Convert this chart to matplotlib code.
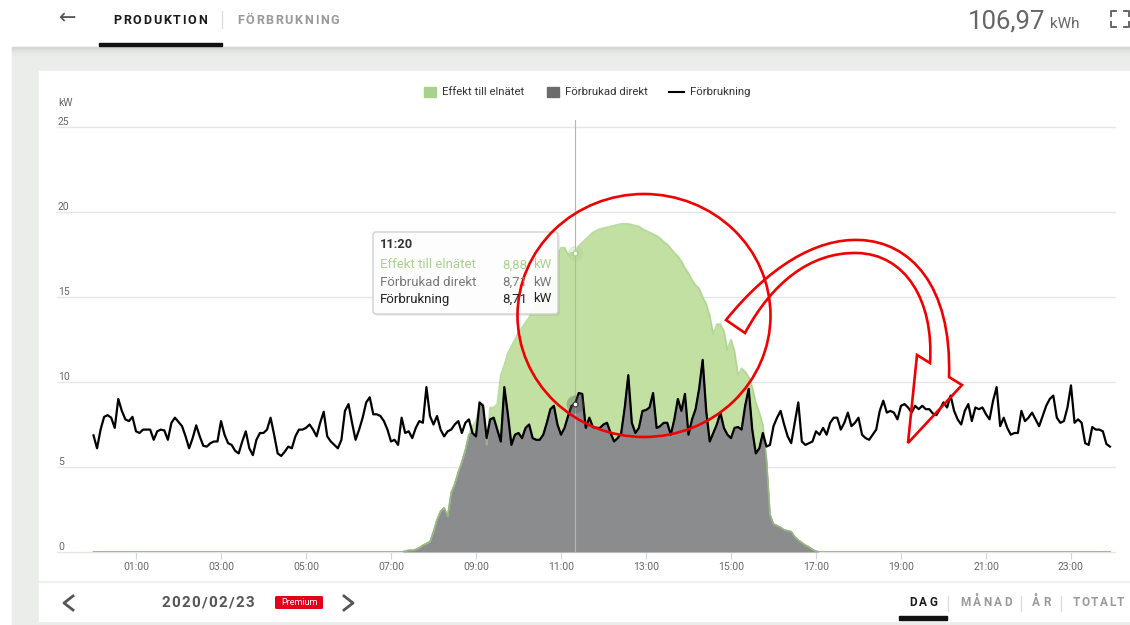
import numpy as np
import matplotlib
matplotlib.use("Agg")
import matplotlib.pyplot as plt
from matplotlib.patches import Rectangle, Ellipse, PathPatch, FancyBboxPatch
from matplotlib.path import Path
from matplotlib.font_manager import FontProperties
from matplotlib.textpath import TextToPath
import matplotlib.transforms as mtransforms

plt.rcParams['font.family'] = ['Roboto', 'DejaVu Sans']

# --- data: 5 minute values for 2020/02/23 (kW) ---
# Förbrukning, 00:00 .. 23:55
forbrukning = [
    6.86, 6.1, 7.2, 7.95, 8.05, 7.9, 7.3, 9.0, 8.3, 7.8,
    7.7, 7.95, 7.1, 7.0, 7.2, 7.2, 7.2, 6.6, 7.1, 7.2,
    7.15, 6.6, 7.6, 7.9, 7.65, 7.4, 6.8, 6.1, 6.7, 7.45,
    6.8, 6.25, 6.2, 6.4, 6.5, 6.5, 7.7, 6.9, 6.4, 6.3,
    5.95, 5.8, 6.5, 7.1, 6.1, 5.7, 6.6, 7.0, 7.0, 7.2,
    7.9, 6.9, 5.8, 5.65, 5.9, 6.2, 6.1, 6.8, 7.2, 7.2,
    7.3, 7.5, 7.2, 6.8, 7.6, 8.25, 6.8, 6.5, 6.3, 6.1,
    6.6, 8.3, 8.7, 7.6, 6.6, 7.2, 7.9, 8.8, 9.1, 8.1,
    8.1, 8.0, 7.7, 7.2, 6.5, 6.6, 6.3, 7.9, 7.0, 7.1,
    6.7, 7.3, 7.7, 7.6, 9.7, 8.0, 7.5, 8.0, 7.2, 6.8,
    7.1, 7.2, 7.5, 7.7, 7.0, 7.6, 7.8, 7.0, 6.8, 8.8,
    8.6, 6.7, 7.8, 7.9, 7.2, 6.5, 9.7, 8.1, 6.3, 6.9,
    7.0, 6.7, 7.3, 7.5, 6.7, 6.6, 6.6, 6.9, 7.6, 8.4,
    8.6, 7.5, 6.9, 7.3, 8.0, 8.6, 8.71, 9.35, 9.3, 7.3,
    7.9, 7.35, 7.3, 7.3, 7.5, 7.6, 7.0, 6.5, 6.7, 7.0,
    8.5, 10.4, 7.6, 7.0, 7.3, 8.3, 8.35, 8.5, 9.35, 7.3,
    7.4, 7.6, 7.6, 6.9, 7.8, 9.0, 8.3, 9.3, 6.9, 7.8,
    8.4, 9.6, 11.3, 8.3, 6.5, 7.0, 7.5, 8.2, 7.3, 6.9,
    6.7, 7.3, 7.35, 7.2, 8.6, 9.6, 7.2, 5.8, 6.1, 7.0,
    6.2, 6.3, 7.4, 7.9, 8.3, 7.5, 6.8, 6.4, 7.6, 8.8,
    6.5, 6.3, 6.4, 6.5, 7.1, 6.9, 7.3, 6.9, 7.6, 7.9,
    7.9, 7.2, 7.6, 8.2, 7.4, 7.6, 7.9, 6.9, 6.7, 6.6,
    6.9, 7.2, 8.3, 8.9, 8.2, 8.3, 8.2, 7.8, 8.6, 8.7,
    8.5, 8.2, 8.6, 8.4, 8.6, 8.4, 8.4, 8.15, 8.05, 8.4,
    8.8, 8.5, 9.2, 8.3, 7.8, 7.5, 8.3, 8.7, 7.7, 8.5,
    8.4, 8.5, 8.1, 7.8, 8.9, 9.7, 7.4, 7.9, 7.3, 6.9,
    7.0, 7.0, 8.3, 7.7, 7.9, 8.2, 7.8, 7.4, 8.0, 8.6,
    9.0, 9.2, 7.9, 7.6, 7.7, 8.5, 9.8, 7.6, 7.8, 7.6,
    6.4, 6.3, 7.35, 7.2, 7.2, 7.1, 6.35, 6.2,
]

# solar production, from 07:20 to 17:00 (zero outside)
prod_start_index = 88
produktion_dag = [
    0.05, 0.1, 0.1, 0.15, 0.25, 0.4, 0.5, 0.6, 1.2, 1.9, 2.4, 2.6,
    2.1, 3.5, 4.0, 4.7, 5.3, 6.0, 6.9, 7.4, 7.7, 8.6,
    8.7, 6.3, 8.5, 8.5, 8.7, 10.4, 11.0, 11.7, 12.1, 12.5,
    12.9, 13.2, 13.5, 13.8, 14.2, 14.7, 15.1, 15.3, 15.5, 15.9,
    16.5, 17.4, 17.9, 17.9, 17.5, 17.6, 17.59, 18.0, 18.2, 18.4,
    18.6, 18.8, 18.9, 19.0, 19.05, 19.1, 19.15, 19.2, 19.25, 19.3,
    19.3, 19.3, 19.25, 19.2, 19.15, 19.0, 18.9, 18.8, 18.7, 18.6,
    18.45, 18.25, 18.1, 17.85, 17.6, 17.4, 17.1, 16.7, 16.4, 16.0,
    15.7, 15.5, 15.0, 14.6, 13.9, 12.8, 13.4, 13.4, 13.0, 11.9,
    12.5, 11.8, 10.4, 10.8, 10.6, 10.3, 9.7, 8.8, 8.2, 7.5,
    5.5, 2.2, 1.65, 1.55, 1.45, 1.3, 1.25, 1.2, 0.9, 0.7,
    0.55, 0.4, 0.3, 0.15, 0.05,
]

tick_hours = [1, 3, 5, 7, 9, 11, 13, 15, 17, 19, 21, 23]
tick_labels = ['%02d:00' % h for h in tick_hours]
y_ticks = [0, 5, 10, 15, 20, 25]
tooltip_time = '11:20'

cons = np.array(forbrukning)
prod = np.zeros(len(cons))
prod[prod_start_index:prod_start_index + len(produktion_dag)] = produktion_dag
hours = np.arange(len(cons)) / 12.0
direkt = np.minimum(cons, prod)
export = prod - direkt
i_tip = 136

W, H = 1130, 625
fig = plt.figure(figsize=(W / 100, H / 100), dpi=100)

# page background
bg = fig.add_axes([0, 0, 1, 1], zorder=0)
bg.set_xlim(0, W); bg.set_ylim(H, 0); bg.axis('off')
bg.add_patch(Rectangle((0, 0), W, H, color='white'))
bg.add_patch(Rectangle((12, 47), W, H, color='#ebedeb'))
for k, c in enumerate(['#d4d6d4', '#dcdedc', '#e3e5e3', '#e8eae8']):
    bg.add_patch(Rectangle((12, 47 + k * 2), W, 2, color=c))
bg.add_patch(Rectangle((39, 71), W, 509, color='white'))
bg.add_patch(Rectangle((39, 583), W, 38, color='white'))

# chart
ax_l, ax_r, ax_t, ax_b = 57, 1115, 120, 552
ax = fig.add_axes([ax_l / W, (H - ax_b) / H, (ax_r - ax_l) / W, (ax_b - ax_t) / H], zorder=1)
ax.patch.set_alpha(0)
x0 = (ax_l - 93.5) / 42.5
x1 = (ax_r - 93.5) / 42.5
ax.set_xlim(x0, x1)
ax.set_ylim(0, 25 + 7 / 17)
for s in ax.spines.values():
    s.set_visible(False)
ax.set_yticks(y_ticks)
ax.set_yticklabels([])
ax.tick_params(axis='y', length=0)
ax.grid(axis='y', color='#e6e6e6', lw=1)
for gl in ax.get_ygridlines():
    gl.set_clip_on(False)
ax.set_xticks(tick_hours)
ax.set_xticklabels(tick_labels, fontsize=7.5, color='#666666')
ax.tick_params(axis='x', length=5, width=0.8, color='#ccd6eb', pad=2)

lab_tr = mtransforms.offset_copy(mtransforms.blended_transform_factory(ax.transAxes, ax.transData),
                                 fig=fig, x=1, y=0, units='dots')
for v in y_ticks:
    ax.text(0, v, str(v), transform=lab_tr, fontsize=7.5, color='#666666', ha='left', va='bottom')

ax.fill_between(hours, 0, direkt, color='#8b8c8e', lw=0, zorder=2)
ax.fill_between(hours, direkt, prod, color='#c3e0a3', lw=0, zorder=2)
ax.plot(hours, direkt, color='#666666', lw=1.0, zorder=3)
ax.plot(hours, prod, color='#a6d189', lw=1.3, alpha=0.75, zorder=3)
ax.plot(hours, cons, color='black', lw=1.6, zorder=4, solid_joinstyle='round')

t_tip = hours[i_tip]
ax.axvline(t_tip, color='#b5b5b5', lw=0.8, zorder=3)
ax.plot([t_tip], [cons[i_tip]], 'o', ms=13, color='#555555', alpha=0.35, zorder=5, mew=0)
ax.plot([t_tip], [cons[i_tip]], 'o', ms=3.5, mfc='white', mec='#333333', mew=0.8, zorder=6)
ax.plot([t_tip], [prod[i_tip]], 'o', ms=11, color='#a9d18e', alpha=0.35, zorder=5, mew=0)
ax.plot([t_tip], [prod[i_tip]], 'o', ms=3.5, mfc='white', mec='#9ccc7c', mew=0.8, zorder=6)

# overlay: ui texts, legend, tooltip, annotations
ov = fig.add_axes([0, 0, 1, 1], zorder=2)
ov.set_xlim(0, W); ov.set_ylim(H, 0); ov.axis('off')
ov.patch.set_alpha(0)

t2p = TextToPath()


def spaced(xa, xb, y, s, size, color, weight='bold'):
    fp = FontProperties(family='Roboto', weight=weight, size=size)
    ws = [t2p.get_text_width_height_descent(c, fp, ismath=False)[0] * 100 / 72 for c in s]
    gap = (xb - xa - sum(ws)) / max(len(s) - 1, 1)
    x = xa
    for c, w in zip(s, ws):
        ov.text(x, y, c, fontproperties=fp, color=color, ha='left', va='baseline')
        x += w + gap


# header
ov.text(68, 18, '\u2190', fontsize=15, color='#555555', ha='center', va='center', family='DejaVu Sans')
spaced(113, 207, 23.5, 'PRODUKTION', 9, '#1a1a1a')
ov.plot([222, 222], [11, 28], color='#dddddd', lw=1)
spaced(237, 339, 23.5, 'FÖRBRUKNING', 9, '#9a9a9a')
ov.add_patch(Rectangle((99, 43), 123, 3, color='#111111'))
ov.text(1045, 28, '106,97', fontsize=18.5, color='#666666', ha='right', va='baseline')
ov.text(1050, 28, 'kWh', fontsize=11, color='#666666', ha='left', va='baseline')
for cx, d in [(1111, 1), (1129, -1)]:
    ov.plot([cx, cx, cx + 5 * d], [16, 11, 11], color='#666666', lw=1.4)
    ov.plot([cx, cx, cx + 5 * d], [22, 27, 27], color='#666666', lw=1.4)

# legend
ov.add_patch(Rectangle((424, 87), 12, 10, color='#a9d18e'))
ov.text(442, 92, 'Effekt till elnätet', fontsize=8.2, color='#333333', va='center')
ov.add_patch(Rectangle((547, 87), 12, 10, color='#6b6b6b'))
ov.text(565, 92, 'Förbrukad direkt', fontsize=8.2, color='#333333', va='center')
ov.plot([669, 684], [92, 92], color='black', lw=1.5)
ov.text(690, 92, 'Förbrukning', fontsize=8.2, color='#333333', va='center')
ov.text(58, 103, 'kW', fontsize=7.5, color='#666666', va='center')

# tooltip
ov.add_patch(FancyBboxPatch((375, 234), 185, 82, boxstyle='round,pad=0,rounding_size=3',
                            fc='#000000', alpha=0.06, lw=0))
ov.add_patch(FancyBboxPatch((373, 232), 185, 82, boxstyle='round,pad=0,rounding_size=3',
                            fc='white', ec='#cccccc', lw=1, alpha=0.93))
ov.text(380, 245, tooltip_time, fontsize=9.3, weight='bold', color='#333333', va='center')
rows = [('Effekt till elnätet', export[i_tip], '#a9d18e'),
        ('Förbrukad direkt', direkt[i_tip], '#777777'),
        ('Förbrukning', cons[i_tip], '#222222')]
for k, (name, val, col) in enumerate(rows):
    yy = 265 + k * 17
    ov.text(380, yy, name, fontsize=9.5, color=col, va='center')
    ov.text(527, yy, ('%.2f' % val).replace('.', ','), fontsize=9.5, color=col, va='center', ha='right')
    ov.text(551, yy, 'kW', fontsize=9.5, color=col, va='center', ha='right')

# red annotations
red = '#f00000'
ov.add_patch(Ellipse((644, 315.5), 253, 243, fill=False, ec=red, lw=1.9))
C4, L2 = Path.CURVE4, Path.LINETO
verts = [(726, 320),
         (768, 268), (815, 238), (860, 240),
         (910, 242), (952, 285), (949, 377),
         (962, 385), (908, 443), (917, 355), (930, 363),
         (934, 300), (905, 254), (857, 253),
         (810, 252), (772, 283), (745, 333),
         (726, 320)]
codes = [Path.MOVETO, C4, C4, C4, C4, C4, C4, L2, L2, L2, L2, C4, C4, C4, C4, C4, C4, Path.CLOSEPOLY]
ov.add_patch(PathPatch(Path(verts, codes), fill=False, ec=red, lw=1.9, joinstyle='miter'))

# footer
ov.plot([73, 64, 73], [596, 603, 610], color='#555555', lw=2)
ov.plot([344, 353, 344], [596, 603, 610], color='#555555', lw=2)
spaced(161, 254, 607, '2020/02/23', 11, '#555555')
ov.add_patch(FancyBboxPatch((275, 596), 48, 13, boxstyle='round,pad=0,rounding_size=1.5',
                            fc='#e2001a', lw=0))
ov.text(299, 602.5, 'Premium', fontsize=6.5, color='white', ha='center', va='center')
spaced(909, 938, 606.5, 'DAG', 8.5, '#1a1a1a')
spaced(960, 1012, 606.5, 'MÅNAD', 8.5, '#999999')
spaced(1032, 1051, 606.5, 'ÅR', 8.5, '#999999')
spaced(1073, 1124, 606.5, 'TOTALT', 8.5, '#999999')
for sx in [948, 1021, 1061]:
    ov.plot([sx, sx], [596, 611], color='#dddddd', lw=1)
ov.add_patch(Rectangle((899, 616), 48, 4, color='#111111'))

fig.savefig('out.png', dpi=100)
